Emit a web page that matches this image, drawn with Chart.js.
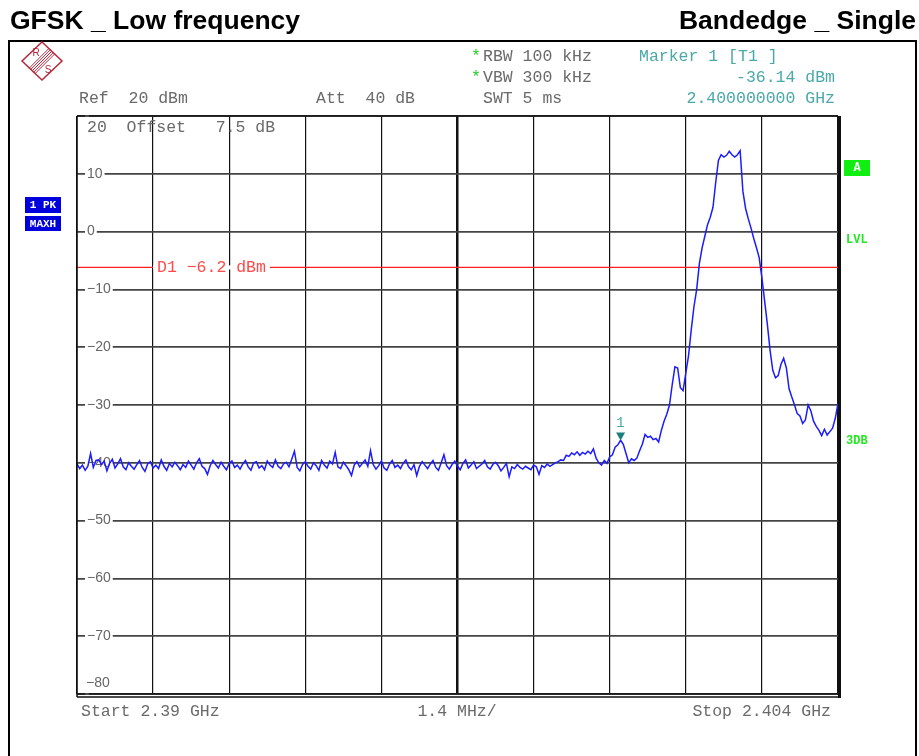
<!DOCTYPE html>
<html>
<head>
<meta charset="utf-8">
<script src="https://cdn.jsdelivr.net/npm/chart.js@4.4.1/dist/chart.umd.min.js"></script>
<style>
  html, body { margin: 0; padding: 0; background: #fff; }
  #wrap { width: 919px; height: 756px; }
</style>
</head>
<body>
<div id="wrap"><canvas id="spectrum" width="919" height="756"></canvas></div>
<script>
// sweep: 2.39 GHz .. 2.404 GHz, trace levels in dBm
const sweepStart = 2.39
const sweepStop = 2.404
const traceLevels = [
  -40.2,-41.0,-40.4,-41.3,-40.6,-38.4,-40.8,-39.6,-39.5,-40.3,-39.7,-41.4,-40.1,-39.4,-40.9,-40.2,-39.3,-40.7,-41.2,-40.0,
  -40.6,-41.1,-40.3,-39.6,-40.8,-41.5,-40.2,-39.8,-40.9,-40.4,-41.0,-39.5,-40.6,-41.3,-40.1,-40.7,-39.9,-40.5,-41.2,-40.3,
  -40.8,-39.7,-40.4,-41.1,-40.0,-39.3,-40.6,-41.0,-42.0,-40.5,-39.6,-40.3,-40.9,-39.9,-40.6,-41.2,-40.1,-39.7,-40.8,-40.4,
  -41.1,-40.2,-39.6,-40.7,-41.3,-40.0,-39.8,-40.9,-40.5,-41.2,-39.7,-40.4,-40.8,-39.5,-40.6,-41.0,-40.2,-39.9,-40.7,-39.4,
  -38.0,-40.8,-41.4,-40.3,-39.8,-40.6,-41.1,-40.0,-40.5,-41.3,-39.6,-40.4,-40.9,-39.7,-40.2,-38.2,-40.7,-41.0,-39.9,-40.5,
  -41.2,-42.2,-40.4,-39.8,-40.7,-40.1,-39.5,-40.6,-37.9,-40.3,-41.1,-40.5,-39.7,-40.9,-41.3,-40.2,-39.6,-40.8,-40.4,-41.0,
  -40.1,-39.5,-40.7,-41.2,-40.3,-42.2,-40.6,-39.8,-40.4,-41.0,-40.2,-39.6,-40.8,-41.3,-40.0,-38.6,-40.5,-41.1,-40.3,-39.7,
  -40.6,-41.2,-40.1,-39.5,-40.9,-40.4,-39.8,-41.0,-40.6,-40.2,-39.6,-40.7,-41.1,-40.3,-39.9,-40.5,-41.4,-40.8,-40.1,-42.4,
  -40.7,-41.0,-40.3,-40.8,-41.1,-40.6,-40.9,-41.2,-40.4,-40.7,-42.0,-40.5,-40.8,-40.2,-40.6,-40.3,-40.0,-39.8,-39.5,
  -39.6,-38.7,-38.9,-38.3,-38.6,-38.1,-38.7,-38.2,-38.5,-38.0,-38.4,-37.6,-39.2,-40.0,-40.4,-39.6,-40.1,-39.0,-38.6,-37.3,
  -36.9,-36.1,-36.8,-38.4,-40.0,-39.3,-39.6,-39.2,-37.9,-36.8,-35.1,-35.6,-35.4,-36.0,-35.8,-36.4,-34.4,-32.8,-31.6,-30.0,
  -26.5,-23.4,-23.6,-27.0,-27.5,-24.5,-21.5,-17.0,-13.0,-10.0,-5.5,-2.8,-0.8,1.2,2.5,4.2,8.5,12.3,13.3,12.9,
  13.2,13.9,13.3,12.9,13.3,14.0,7.0,4.0,2.2,0.6,-1.2,-2.8,-4.5,-8.0,-12.0,-16.0,-20.5,-24.0,-25.3,-24.9,
  -23.0,-21.9,-23.6,-27.2,-28.6,-30.0,-31.5,-31.9,-33.2,-32.6,-30.0,-31.0,-32.8,-33.7,-34.4,-35.3,-34.2,-35.2,-34.6,-34.0,
  -32.3,-29.7
]
const xTicks = [2.39, 2.3914, 2.3928, 2.3942, 2.3956, 2.397, 2.3984, 2.3998, 2.4012, 2.4026, 2.404]
const yTicks = [20, 10, 0, -10, -20, -30, -40, -50, -60, -70, -80]
const displayLine = -6.2
const markerFreq = 2.4
const markerLevel = -36.14

const MONO = '"Liberation Mono", "DejaVu Sans Mono", monospace'
const SANS = '"Liberation Sans", Arial, sans-serif'

function tracePoints() {
    const step = (sweepStop - sweepStart) / (traceLevels.length - 1)
    return traceLevels.map((level, i) => ({ x: sweepStart + i * step, y: level }))
}

function text(ctx, str, x, y, color, font, align) {
    ctx.fillStyle = color
    ctx.font = font
    ctx.textAlign = align || 'left'
    ctx.textBaseline = 'middle'
    ctx.fillText(str, x, y)
}

const analyzerFrame = {
    id: 'analyzerFrame',
    beforeDraw(chart) {
        const ctx = chart.ctx
        ctx.save()
        ctx.fillStyle = '#fff'
        ctx.fillRect(0, 0, chart.width, chart.height)
        ctx.restore()
    },
    afterDraw(chart) {
        const { ctx, chartArea: a, scales: { x, y } } = chart
        ctx.save()

        // titles above the screenshot
        ctx.fillStyle = '#000'
        ctx.font = 'bold 26.5px ' + SANS
        ctx.textBaseline = 'alphabetic'
        ctx.textAlign = 'left'
        ctx.fillText('GFSK _ Low frequency', 10, 29)
        ctx.textAlign = 'right'
        ctx.fillText('Bandedge _ Single', 916, 29)

        // outer frame
        ctx.strokeStyle = '#000'
        ctx.lineWidth = 2
        ctx.beginPath()
        ctx.moveTo(9, 760)
        ctx.lineTo(9, 41)
        ctx.lineTo(916, 41)
        ctx.lineTo(916, 760)
        ctx.stroke()

        // R&S logo
        ctx.strokeStyle = '#b4283c'
        ctx.lineWidth = 1.5
        ctx.beginPath()
        ctx.moveTo(42, 42)
        ctx.lineTo(62, 61)
        ctx.lineTo(42, 80)
        ctx.lineTo(22, 61)
        ctx.closePath()
        ctx.stroke()
        ctx.lineWidth = 1
        for (let k = -2; k <= 2; k++) {
            ctx.beginPath()
            ctx.moveTo(32 + k * 1.4, 71 + k * 1.4)
            ctx.lineTo(52 + k * 1.4, 51 + k * 1.4)
            ctx.stroke()
        }
        text(ctx, 'R', 36, 53, '#b4283c', '10px ' + SANS, 'center')
        text(ctx, 'S', 48, 70, '#b4283c', '10px ' + SANS, 'center')

        // header
        const grey = '#6a6a6a'
        const teal = '#4aa8a8'
        const f16 = '16.5px ' + MONO
        text(ctx, 'Ref  20 dBm', 79, 99, grey, f16)
        text(ctx, 'Att  40 dB', 316, 99, grey, f16)
        text(ctx, '*', 471, 57, '#22cc22', f16)
        text(ctx, '*', 471, 78, '#22cc22', f16)
        text(ctx, 'RBW 100 kHz', 483, 57, grey, f16)
        text(ctx, 'VBW 300 kHz', 483, 78, grey, f16)
        text(ctx, 'SWT 5 ms', 483, 99, grey, f16)
        text(ctx, 'Marker 1 [T1 ]', 639, 57, teal, f16)
        text(ctx, markerLevel.toFixed(2) + ' dBm', 835, 78, teal, f16, 'right')
        text(ctx, markerFreq.toFixed(9) + ' GHz', 835, 99, teal, f16, 'right')
        text(ctx, '20  Offset   7.5 dB', 87, 128, grey, f16)
        text(ctx, '\u221280', 86, 683, '#666', '14px ' + SANS)

        // plot border
        ctx.strokeStyle = '#111'
        ctx.lineWidth = 1.5
        ctx.beginPath()
        ctx.moveTo(a.left, a.top)
        ctx.lineTo(a.right, a.top)
        ctx.moveTo(a.left, a.top)
        ctx.lineTo(a.left, a.bottom + 3)
        ctx.stroke()
        ctx.lineWidth = 3
        ctx.beginPath()
        ctx.moveTo(a.right + 1.5, a.top)
        ctx.lineTo(a.right + 1.5, a.bottom + 4)
        ctx.stroke()
        ctx.lineWidth = 1.5
        ctx.beginPath()
        ctx.moveTo(a.left, a.bottom)
        ctx.lineTo(a.right, a.bottom)
        ctx.moveTo(a.left, a.bottom + 3)
        ctx.lineTo(a.right, a.bottom + 3)
        ctx.stroke()

        // display line label
        const dy = y.getPixelForValue(displayLine)
        ctx.fillStyle = '#fff'
        ctx.fillRect(153, dy - 2, 117, 4)
        text(ctx, 'D1 \u22126.2 dBm', 157, dy, '#ff4a4a', f16)

        // marker 1
        const mx = x.getPixelForValue(markerFreq)
        const my = y.getPixelForValue(markerLevel)
        ctx.fillStyle = '#1b7f7f'
        ctx.beginPath()
        ctx.moveTo(mx - 4.5, my - 8)
        ctx.lineTo(mx + 4.5, my - 8)
        ctx.lineTo(mx, my)
        ctx.closePath()
        ctx.fill()
        text(ctx, '1', mx, my - 17, teal, '14px ' + MONO, 'center')

        // side labels
        ctx.fillStyle = '#0000dd'
        ctx.fillRect(25, 197, 36, 16)
        ctx.fillRect(25, 216, 36, 15)
        text(ctx, '1 PK', 43, 205, '#fff', 'bold 11px ' + MONO, 'center')
        text(ctx, 'MAXH', 43, 224, '#fff', 'bold 11px ' + MONO, 'center')
        ctx.fillStyle = '#11ee11'
        ctx.fillRect(844, 160, 26, 16)
        text(ctx, 'A', 857, 168, '#fff', 'bold 12px ' + MONO, 'center')
        text(ctx, 'LVL', 846, 240, '#22e822', 'bold 12px ' + MONO)
        text(ctx, '3DB', 846, 441, '#22e822', 'bold 12px ' + MONO)

        // footer
        text(ctx, 'Start 2.39 GHz', 81, 712, grey, f16)
        text(ctx, '1.4 MHz/', 457, 712, grey, f16, 'center')
        text(ctx, 'Stop 2.404 GHz', 831, 712, grey, f16, 'right')

        ctx.restore()
    }
}

function createChart() {
    const ctx = document.getElementById('spectrum').getContext('2d')
    return new Chart(ctx, {
        type: 'line',
        data: {
            datasets: [
                {
                    label: 'Trace 1',
                    data: tracePoints(),
                    borderColor: '#1c1cff',
                    borderWidth: 1.5,
                    pointRadius: 0,
                    tension: 0,
                },
                {
                    label: 'D1',
                    data: [{ x: sweepStart, y: displayLine }, { x: sweepStop, y: displayLine }],
                    borderColor: '#ff2020',
                    borderWidth: 1.3,
                    pointRadius: 0,
                },
            ]
        },
        options: {
            responsive: false,
            animation: false,
            events: [],
            // the mirrored y axis still reserves ~20px, so the left pad is reduced by that
            layout: { padding: { left: 57, right: 81, top: 116, bottom: 62 } },
            plugins: { legend: { display: false }, tooltip: { enabled: false } },
            scales: {
                x: {
                    type: 'linear',
                    min: sweepStart,
                    max: sweepStop,
                    afterBuildTicks: scale => { scale.ticks = xTicks.map(v => ({ value: v })) },
                    ticks: { display: false },
                    border: { display: false },
                    grid: {
                        drawTicks: false,
                        color: '#111',
                        lineWidth: c => c.index === 5 ? 2.5 : 1.2,
                    },
                },
                y: {
                    min: -80,
                    max: 20,
                    afterBuildTicks: scale => { scale.ticks = yTicks.map(v => ({ value: v })) },
                    border: { display: false },
                    grid: { drawTicks: false, color: '#444', lineWidth: 1.8 },
                    ticks: {
                        mirror: true,
                        padding: 10,
                        color: '#666',
                        font: { family: SANS, size: 14 },
                        showLabelBackdrop: true,
                        backdropColor: '#fff',
                        backdropPadding: { left: 2, right: 2, top: 0, bottom: 0 },
                        callback: v => (v === 20 || v === -80) ? '' : String(v).replace('-', '\u2212'),
                    },
                },
            },
        },
        plugins: [analyzerFrame],
    })
}

createChart()
</script>
</body>
</html>
